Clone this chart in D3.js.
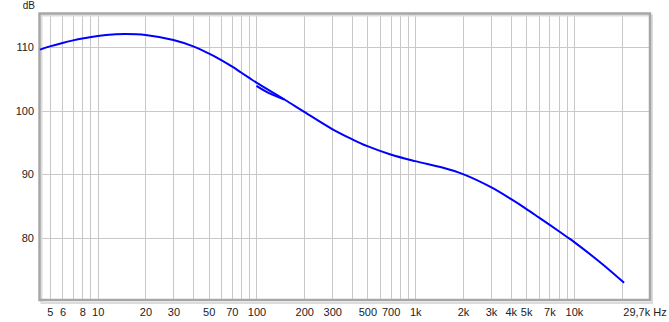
<!DOCTYPE html>
<html>
<head>
<meta charset="utf-8">
<script src="https://cdn.jsdelivr.net/npm/d3@7"></script>
<style>
  body { margin: 0; background: #fff; }
  svg { display: block; font-family: "Liberation Sans", Arial, sans-serif; }
</style>
</head>
<body>
<script>
// Frequency response (main curve)
const freq = [4.33, 5, 6, 7, 8, 10, 13, 15, 20, 30, 40, 50, 60, 70, 80, 90, 100, 150, 200, 300, 400, 500, 700, 1000, 1500, 2000, 3000, 4000, 5000, 6000, 7000, 8000, 9000, 10000, 15000, 20700];
const spl = [109.6, 110.1, 110.65, 111.05, 111.35, 111.75, 112.0, 112.05, 111.9, 111.1, 110.1, 109.0, 107.95, 106.95, 106.0, 105.15, 104.4, 101.75, 99.8, 97.1, 95.5, 94.4, 93.1, 92.05, 91.0, 90.0, 87.95, 86.1, 84.55, 83.2, 82.05, 81.05, 80.15, 79.35, 75.9, 72.9];

// short merge segment near 100 Hz
const freqMerge = [100, 120, 150];
const splMerge = [103.9, 102.75, 101.75];

// ticks
const gridFreqs = [5, 6, 7, 8, 9, 10, 20, 30, 40, 50, 60, 70, 80, 90, 100, 200, 300, 400, 500, 600, 700, 800, 900, 1000, 2000, 3000, 4000, 5000, 6000, 7000, 8000, 9000, 10000, 20000];
const tickFreqs = [5, 6, 8, 10, 20, 30, 50, 70, 100, 200, 300, 500, 700, 1000, 2000, 3000, 4000, 5000, 7000, 10000];
const tickLabels = ['5', '6', '8', '10', '20', '30', '50', '70', '100', '200', '300', '500', '700', '1k', '2k', '3k', '4k', '5k', '7k', '10k'];
const dbTicks = [80, 90, 100, 110];

const width = 669;
const height = 322;
const plotLeft = 40, plotRight = 649, plotTop = 14, plotBottom = 300;

const svg = d3.select('body')
    .append('svg')
    .attr('width', width)
    .attr('height', height);

const x = d3.scaleLog()
    .domain([4.33, 29700])
    .range([plotLeft, plotRight]);

const y = d3.scaleLinear()
    .domain([70.2, 115.2])
    .range([plotBottom, plotTop]);

// grid lines
svg.append('g')
    .attr('transform', `translate(0,${plotBottom})`)
    .call(d3.axisBottom(x).tickValues(gridFreqs).tickSize(-(plotBottom - plotTop)).tickFormat(''))
    .call(g => g.select('.domain').remove())
    .call(g => g.selectAll('line').attr('stroke', '#c8c8c8').attr('shape-rendering', 'crispEdges'));

svg.append('g')
    .attr('transform', `translate(${plotLeft},0)`)
    .call(d3.axisLeft(y).tickValues(dbTicks).tickSize(-(plotRight - plotLeft)).tickFormat(''))
    .call(g => g.select('.domain').remove())
    .call(g => g.selectAll('line').attr('stroke', '#c8c8c8').attr('shape-rendering', 'crispEdges'));

// frame
svg.append('rect')
    .attr('x', plotLeft + 1.5).attr('y', plotTop + 1.5)
    .attr('width', plotRight - plotLeft + 1.5).attr('height', plotBottom - plotTop + 1.5)
    .attr('fill', 'none').attr('stroke', '#dcdcdc').attr('stroke-width', 2);
svg.append('rect')
    .attr('x', plotLeft - 0.5).attr('y', plotTop - 0.5)
    .attr('width', plotRight - plotLeft + 1.5).attr('height', plotBottom - plotTop + 0.5)
    .attr('fill', 'none').attr('stroke', '#a6a6a6').attr('stroke-width', 2.5);

// axis labels
svg.append('g')
    .attr('transform', `translate(0,${plotBottom + 5})`)
    .call(d3.axisBottom(x).tickValues(tickFreqs).tickSize(0).tickFormat((d, i) => tickLabels[i]))
    .call(g => g.select('.domain').remove())
    .call(g => g.selectAll('text').attr('fill', '#222').style('font-size', '11px'))
    .attr('font-family', null);

svg.append('text')
    .attr('x', 645).attr('y', 316)
    .attr('text-anchor', 'middle')
    .attr('fill', '#222').style('font-size', '11px')
    .text('29,7k Hz');

svg.append('g')
    .attr('transform', `translate(${plotLeft - 4},0)`)
    .call(d3.axisLeft(y).tickValues(dbTicks).tickSize(0).tickPadding(2))
    .call(g => g.select('.domain').remove())
    .call(g => g.selectAll('text').attr('fill', '#222').style('font-size', '11px'))
    .attr('font-family', null);

svg.append('text')
    .attr('x', 35).attr('y', 9)
    .attr('text-anchor', 'end')
    .attr('fill', '#222').style('font-size', '10px')
    .text('dB');

// curves
const line = d3.line()
    .x(d => x(d[0]))
    .y(d => y(d[1]))
    .curve(d3.curveCatmullRom.alpha(0.5));

svg.append('path')
    .datum(freqMerge.map((f, i) => [f, splMerge[i]]))
    .attr('d', line)
    .attr('fill', 'none')
    .attr('stroke', '#0000ff')
    .attr('stroke-width', 2);

svg.append('path')
    .datum(freq.map((f, i) => [f, spl[i]]))
    .attr('d', line)
    .attr('fill', 'none')
    .attr('stroke', '#0000ff')
    .attr('stroke-width', 2);
</script>
</body>
</html>
